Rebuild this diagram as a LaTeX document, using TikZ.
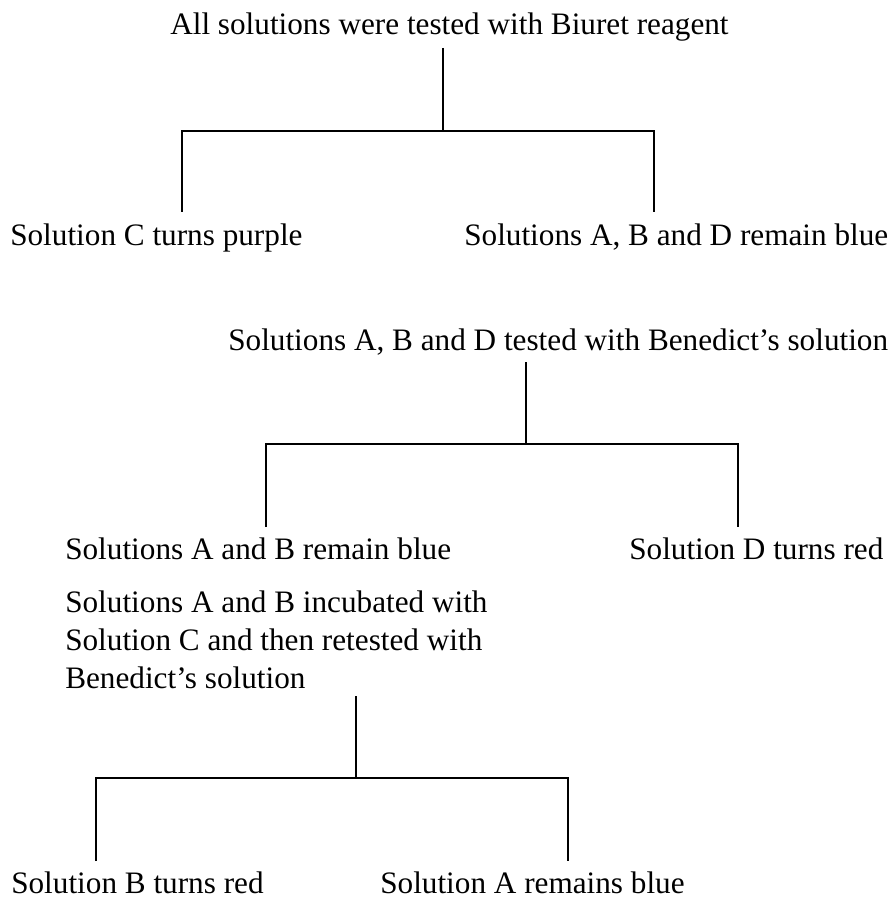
\documentclass[tikz,border=0pt]{standalone}
\usepackage{fontspec}
\setmainfont{Liberation Serif}
\usepackage{tikz}

\begin{document}
\begin{tikzpicture}[
  x=0.025cm, y=-0.025cm,
  txt/.style   = {anchor=base west, inner sep=0pt,
                  font=\fontsize{22.2pt}{26.7pt}\selectfont},
  multi/.style = {txt, anchor=north west, align=left},
  link/.style  = {draw, line width=0.8pt},
]
  \useasboundingbox (0,0) rectangle (893,899);

  % Biuret test
  \node[txt] (biuret) at (170,35)  {All solutions were tested with Biuret reagent};
  \node[txt] (purple) at (10,245)  {Solution C turns purple};
  \node[txt] (abdblu) at (464,245) {Solutions A, B and D remain blue};

  % Benedict's test
  \node[txt] (bened)  at (228,350) {Solutions A, B and D tested with Benedict's solution};
  \node[txt] (abblu)  at (65,559)  {Solutions A and B remain blue};
  \node[txt] (dred)   at (629,559) {Solution D turns red};

  % incubation and retest
  \node[multi] (incub) at (65,591)
    {Solutions A and B incubated with\\Solution C and then retested with\\Benedict's solution};
  \node[txt] (bred)   at (11,893)  {Solution B turns red};
  \node[txt] (ablue)  at (380,893) {Solution A remains blue};

  % branch points
  \coordinate (b0) at (443,48);  \coordinate (bj) at (443,131);
  \coordinate (bl) at (182,212); \coordinate (br) at (654,212);
  \coordinate (n0) at (526,362); \coordinate (nj) at (526,444);
  \coordinate (nl) at (266,527); \coordinate (nr) at (738,527);
  \coordinate (r0) at (356,696); \coordinate (rj) at (356,778);
  \coordinate (rl) at (96,861);  \coordinate (rr) at (568,861);

  \draw[link] (b0) -- (bj);
  \draw[link] (bl) |- (bj) -| (br);
  \draw[link] (n0) -- (nj);
  \draw[link] (nl) |- (nj) -| (nr);
  \draw[link] (r0) -- (rj);
  \draw[link] (rl) |- (rj) -| (rr);
\end{tikzpicture}
\end{document}
